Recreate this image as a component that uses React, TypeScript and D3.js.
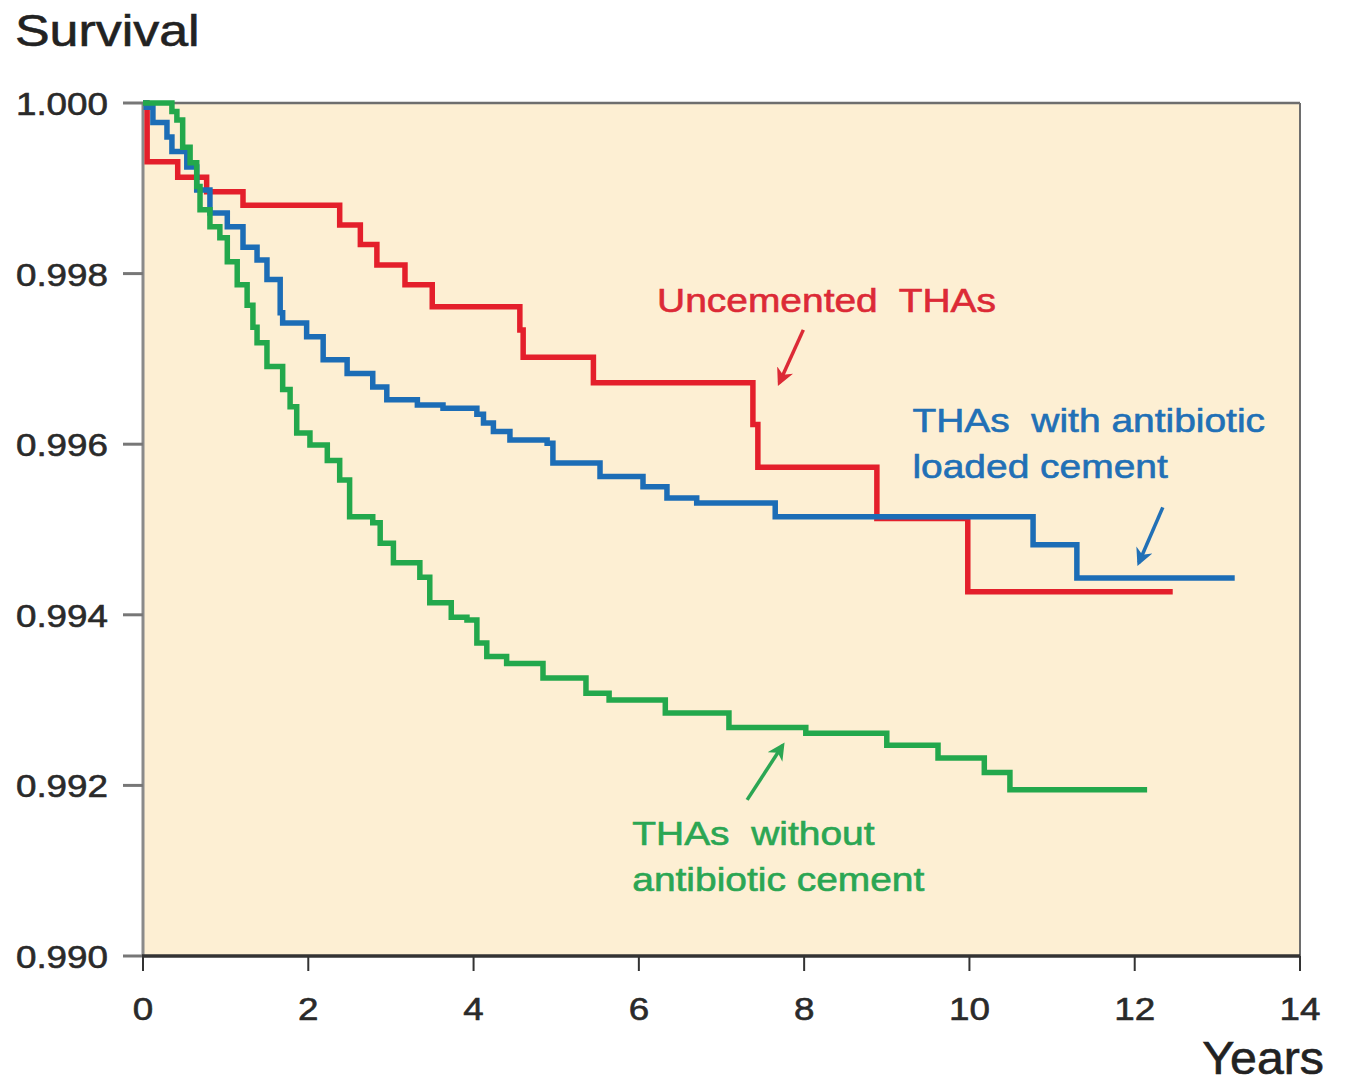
import * as d3 from 'd3';

// Kaplan-Meier steps: [years, survival]
const uncementedYears = [0, 0.05, 0.42, 0.77, 1.21, 2.38, 2.63, 2.83, 3.17, 3.5, 4.56, 4.6, 5.45, 7.38, 7.44, 8.88, 9.98, 12.46];
const uncementedSurv = [1.0, 0.99931, 0.99913, 0.99896, 0.9988, 0.99857, 0.99834, 0.9981, 0.99787, 0.99761, 0.99734, 0.99702, 0.99672, 0.99623, 0.99573, 0.99513, 0.99427, 0.99427];

const loadedYears = [0, 0.04, 0.12, 0.29, 0.35, 0.53, 0.65, 0.81, 1.02, 1.21, 1.38, 1.5, 1.66, 1.69, 1.98, 2.18, 2.47, 2.78, 2.95, 3.32, 3.63, 4.04, 4.12, 4.24, 4.44, 4.89, 4.96, 5.53, 6.05, 6.34, 6.7, 7.65, 10.77, 11.3, 13.21];
const loadedSurv = [1.0, 0.99995, 0.99977, 0.9996, 0.99943, 0.99925, 0.99898, 0.99871, 0.99855, 0.99831, 0.99816, 0.99793, 0.99754, 0.99742, 0.99726, 0.99699, 0.99683, 0.99667, 0.99652, 0.99646, 0.99642, 0.99635, 0.99625, 0.99615, 0.99605, 0.99601, 0.99578, 0.99562, 0.9955, 0.99537, 0.99531, 0.99515, 0.99482, 0.99443, 0.99443];

const plainYears = [0, 0.35, 0.41, 0.48, 0.57, 0.65, 0.69, 0.81, 0.93, 1.02, 1.14, 1.26, 1.33, 1.38, 1.5, 1.69, 1.78, 1.86, 2.02, 2.23, 2.38, 2.5, 2.78, 2.87, 3.03, 3.35, 3.47, 3.73, 3.92, 4.04, 4.16, 4.4, 4.84, 5.36, 5.64, 6.32, 7.09, 8.02, 9.0, 9.62, 10.18, 10.49, 12.15];
const plainSurv = [1.0, 0.9999, 0.9998, 0.99948, 0.9993, 0.99902, 0.99875, 0.99855, 0.99842, 0.99814, 0.99787, 0.99763, 0.99737, 0.99719, 0.99691, 0.99664, 0.99644, 0.99613, 0.99599, 0.99581, 0.99558, 0.99515, 0.99508, 0.99484, 0.99461, 0.99444, 0.99414, 0.99397, 0.99394, 0.99367, 0.99351, 0.99343, 0.99326, 0.99308, 0.993, 0.99285, 0.99268, 0.99261, 0.99247, 0.99232, 0.99215, 0.99195, 0.99195];

const xTicks = [0, 2, 4, 6, 8, 10, 12, 14];
const yTicks = [0.99, 0.992, 0.994, 0.996, 0.998, 1.0];

const RED = '#e41f2b';
const BLUE = '#1c6db6';
const GREEN = '#23a84c';

const W = 1346;
const H = 1084;

const x = d3.scaleLinear().domain([0, 14]).range([143, 1300]);
const y = d3.scaleLinear().domain([0.99, 1.0]).range([956, 103]);

const line = d3.line<[number, number]>()
  .x(d => x(d[0]))
  .y(d => y(d[1]))
  .curve(d3.curveStepAfter);

const zip = (t: number[], s: number[]) => t.map((v, i) => [v, s[i]] as [number, number]);

const series = [
  { name: 'uncemented', color: RED, pts: zip(uncementedYears, uncementedSurv) },
  { name: 'loaded', color: BLUE, pts: zip(loadedYears, loadedSurv) },
  { name: 'plain', color: GREEN, pts: zip(plainYears, plainSurv) },
];

// annotation anchors in data units
const notes = [
  { color: '#dc2a36', lines: ['Uncemented  THAs'], at: [6.22, 0.99755], arrow: [[7.99, 0.99734], [7.7, 0.99672]] },
  { color: '#2170b6', lines: ['THAs  with antibiotic', 'loaded cement'], at: [9.31, 0.99614], arrow: [[12.34, 0.99526], [12.05, 0.99461]] },
  { color: '#2ba653', lines: ['THAs  without', 'antibiotic cement'], at: [5.92, 0.9913], arrow: [[7.31, 0.99183], [7.74, 0.99247]] },
];

const font = '"Liberation Sans", Arial, Helvetica, sans-serif';
const fmt = d3.format('.3f');

function Stretch({ tx, ty, size, anchor = 'start', fill = '#222', sx = 1.15, children }: any) {
  return (
    <text transform={`translate(${tx},${ty}) scale(${sx},1)`} textAnchor={anchor} fontSize={size} fontFamily={font}
      fill={fill} stroke={fill} strokeWidth={0.6} style={{ whiteSpace: 'pre' }}>
      {children}
    </text>
  );
}

export default function App() {
  return (
    <>
      <style>{'body{margin:0}'}</style>
      <svg width={W} height={H} style={{ display: 'block', background: '#fff' }}>
        <defs>
          {notes.map((n, i) => (
            <marker key={i} id={`arr${i}`} viewBox="0 0 10 10" refX="8" refY="5" markerWidth="5" markerHeight="5" orient="auto">
              <path d="M0,0 L10,5 L0,10 L3,5 z" fill={n.color} />
            </marker>
          ))}
        </defs>

        <rect x={x(0)} y={y(1)} width={x(14) - x(0)} height={y(0.99) - y(1)} fill="#fdefd3" />
        <line x1={x(0)} x2={x(14)} y1={y(1)} y2={y(1)} stroke="#6e6e6e" strokeWidth={2.5} />
        <line x1={x(14)} x2={x(14)} y1={y(1)} y2={y(0.99)} stroke="#6e6e6e" strokeWidth={2} />
        <line x1={x(0)} x2={x(0)} y1={y(1) - 1} y2={y(0.99)} stroke="#8a8a8a" strokeWidth={3} />

        {yTicks.map(t => (
          <g key={t}>
            <line x1={x(0) - 20} x2={x(0)} y1={y(t)} y2={y(t)} stroke="#777" strokeWidth={3} />
            <Stretch tx={108} ty={y(t) + 12} size={32} anchor="end" fill="#2a2a2a">{fmt(t)}</Stretch>
          </g>
        ))}

        <line x1={x(0) - 1} x2={x(14)} y1={y(0.99)} y2={y(0.99)} stroke="#333" strokeWidth={3.5} />
        {xTicks.map(t => (
          <g key={t}>
            <line x1={x(t)} x2={x(t)} y1={y(0.99)} y2={y(0.99) + 15} stroke="#333" strokeWidth={2} />
            <Stretch tx={x(t)} ty={1020} size={32} anchor="middle" fill="#2a2a2a">{t}</Stretch>
          </g>
        ))}

        {series.map(s => (
          <path key={s.name} d={line(s.pts) || ''} fill="none" stroke={s.color} strokeWidth={5.5} strokeLinejoin="miter" />
        ))}

        {notes.map((n, i) => (
          <g key={i}>
            {n.lines.map((l, j) => (
              <Stretch key={j} tx={x(n.at[0])} ty={y(n.at[1]) + j * 46} size={33} sx={1.18} fill={n.color}>{l}</Stretch>
            ))}
            <line x1={x(n.arrow[0][0])} y1={y(n.arrow[0][1])} x2={x(n.arrow[1][0])} y2={y(n.arrow[1][1])}
              stroke={n.color} strokeWidth={3.5} markerEnd={`url(#arr${i})`} />
          </g>
        ))}

        <Stretch tx={15} ty={46} size={44} sx={1.18} fill="#222">Survival</Stretch>
        <Stretch tx={1324} ty={1074} size={46} anchor="end" sx={1.05} fill="#222">Years</Stretch>
      </svg>
    </>
  );
}
